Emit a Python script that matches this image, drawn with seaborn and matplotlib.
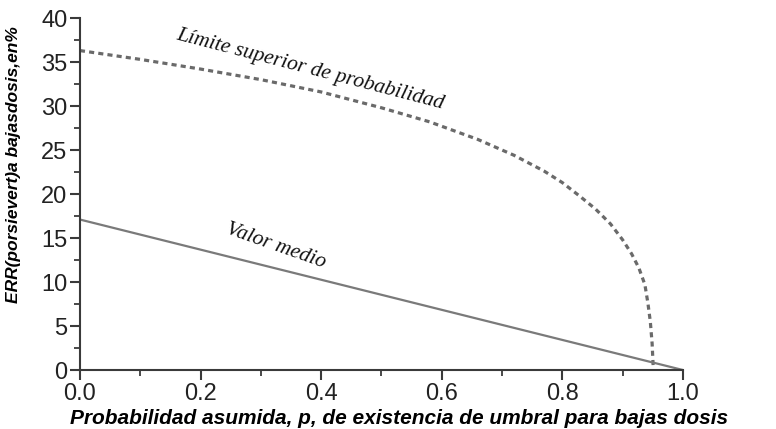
import matplotlib
matplotlib.use("Agg")
import matplotlib.pyplot as plt
import seaborn as sns
import pandas as pd
from matplotlib.ticker import MultipleLocator

# Data
p_upper = [0.0, 0.1, 0.2, 0.3, 0.4, 0.5, 0.58, 0.66, 0.72, 0.77, 0.8, 0.83, 0.855, 0.88, 0.9, 0.915, 0.927, 0.937, 0.942, 0.946, 0.949, 0.951]
err_upper = [36.3, 35.3, 34.2, 33.0, 31.6, 29.8, 28.2, 26.2, 24.4, 22.6, 21.3, 19.7, 18.3, 16.6, 14.8, 13.2, 11.6, 9.7, 7.6, 5.5, 3.0, 0.0]
p_mean = [0.0, 1.0]
err_mean = [17.1, 0.0]

xlabel = "Probabilidad asumida, p, de existencia de umbral para bajas dosis"
ylabel = "ERR(porsievert)a bajasdosis,en%"
label_upper = "Límite superior de probabilidad"
label_mean = "Valor medio"

sns.set_style("ticks")
plt.rcParams['font.family'] = ['Liberation Sans', 'DejaVu Sans']

fig = plt.figure(figsize=(7.76, 4.29), dpi=100)
ax = fig.add_axes([0.103, 0.1375, 0.777, 0.8205])

df_up = pd.DataFrame({"p": p_upper, "err": err_upper})
df_mean = pd.DataFrame({"p": p_mean, "err": err_mean})

sns.lineplot(data=df_up, x="p", y="err", ax=ax, color="#6a6a6a", linewidth=2.3,
             linestyle=(0, (1.6, 1.3)), sort=False)
sns.lineplot(data=df_mean, x="p", y="err", ax=ax, color="#7a7a7a", linewidth=1.6)

ax.set_xlim(0, 1.0)
ax.set_ylim(0, 40)
ax.xaxis.set_major_locator(MultipleLocator(0.2))
ax.xaxis.set_minor_locator(MultipleLocator(0.1))
ax.yaxis.set_major_locator(MultipleLocator(5))
ax.yaxis.set_minor_locator(MultipleLocator(2.5))
ax.xaxis.set_major_formatter(plt.FuncFormatter(lambda v, _: f"{v:.1f}"))
ax.yaxis.set_major_formatter(plt.FuncFormatter(lambda v, _: f"{v:.0f}"))

for s in ["top", "right"]:
    ax.spines[s].set_visible(False)
for s in ["left", "bottom"]:
    ax.spines[s].set_color("#3a3a3a")
    ax.spines[s].set_linewidth(1.5)

ax.tick_params(axis="both", which="major", direction="out", length=7, width=1.5,
               color="#3a3a3a", labelsize=17, labelcolor="#222222", pad=2)
ax.tick_params(axis="both", which="minor", direction="out", length=4, width=1.3,
               color="#3a3a3a")

ax.set_xlabel(xlabel, fontsize=15, fontweight="bold", fontstyle="italic", color="black")
ax.set_ylabel(ylabel, fontsize=12.5, fontweight="bold", fontstyle="italic", color="black")
ax.xaxis.set_label_coords(0.53, -0.112)
ax.yaxis.set_label_coords(-0.098, 0.585)

ax.text(0.381, 34.1, label_upper, rotation=-14.6, ha="center", va="center",
        fontsize=15.5, fontstyle="italic", family=["Liberation Serif", "DejaVu Serif"],
        color="#111111", rotation_mode="anchor")
ax.text(0.325, 14.1, label_mean, rotation=-19.4, ha="center", va="center",
        fontsize=15.5, fontstyle="italic", family=["Liberation Serif", "DejaVu Serif"],
        color="#111111", rotation_mode="anchor")

fig.savefig("out.png", dpi=100)
